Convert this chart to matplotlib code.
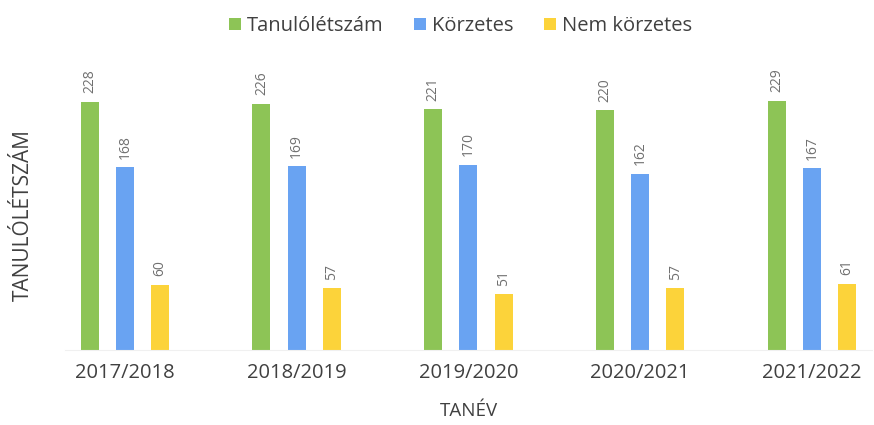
import matplotlib
matplotlib.use("Agg")
import matplotlib.pyplot as plt
import numpy as np

years = ["2017/2018", "2018/2019", "2019/2020", "2020/2021", "2021/2022"]
tanulo = [228, 226, 221, 220, 229]
korzetes = [168, 169, 170, 162, 167]
nem_korzetes = [60, 57, 51, 57, 61]
series_names = ["Tanulólétszám", "Körzetes", "Nem körzetes"]
colors = ["#8DC456", "#69A3F2", "#FCD33A"]

plt.rcParams['font.family'] = ['Open Sans', 'DejaVu Sans']
fig = plt.figure(figsize=(8.74, 4.25), dpi=100)
ax = fig.add_axes([65/874, 75/425, (872-65)/874, 305/425])

x = np.arange(len(years))
w = 0.105
off = 0.205
text_col = "#404040"
for i, (vals, name, c) in enumerate(zip([tanulo, korzetes, nem_korzetes], series_names, colors)):
    bars = ax.bar(x + (i - 1) * off, vals, width=w, color=c, label=name)
    for b, v in zip(bars, vals):
        ax.annotate(str(v), (b.get_x() + b.get_width() / 2, v), xytext=(0, 6),
                    textcoords="offset points", rotation=90, ha="center", va="bottom",
                    fontsize=10, color="#707070")

ax.set_xlim(-0.349, 4.35)
ax.set_ylim(0, 280)
ax.set_xticks(x)
ax.set_xticklabels(years, fontsize=14.5, color=text_col)
ax.set_yticks([])
ax.tick_params(axis='x', length=0, pad=9)
for s in ["top", "right", "left"]:
    ax.spines[s].set_visible(False)
ax.spines["bottom"].set_color("#f0f0f0")
ax.set_xlabel("TANÉV", fontsize=13.5, color=text_col, labelpad=14)
ax.set_ylabel("TANULÓLÉTSZÁM", fontsize=15, color=text_col)
ax.yaxis.set_label_coords(-0.038, 0.443)

leg = fig.legend(loc="upper center", bbox_to_anchor=(0.527, 1.005), ncol=3, frameon=False,
                 fontsize=14.5, handlelength=0.6, handleheight=0.6, handletextpad=0.3,
                 columnspacing=1.5)
for t in leg.get_texts():
    t.set_color(text_col)

fig.savefig("out.png", dpi=100)
